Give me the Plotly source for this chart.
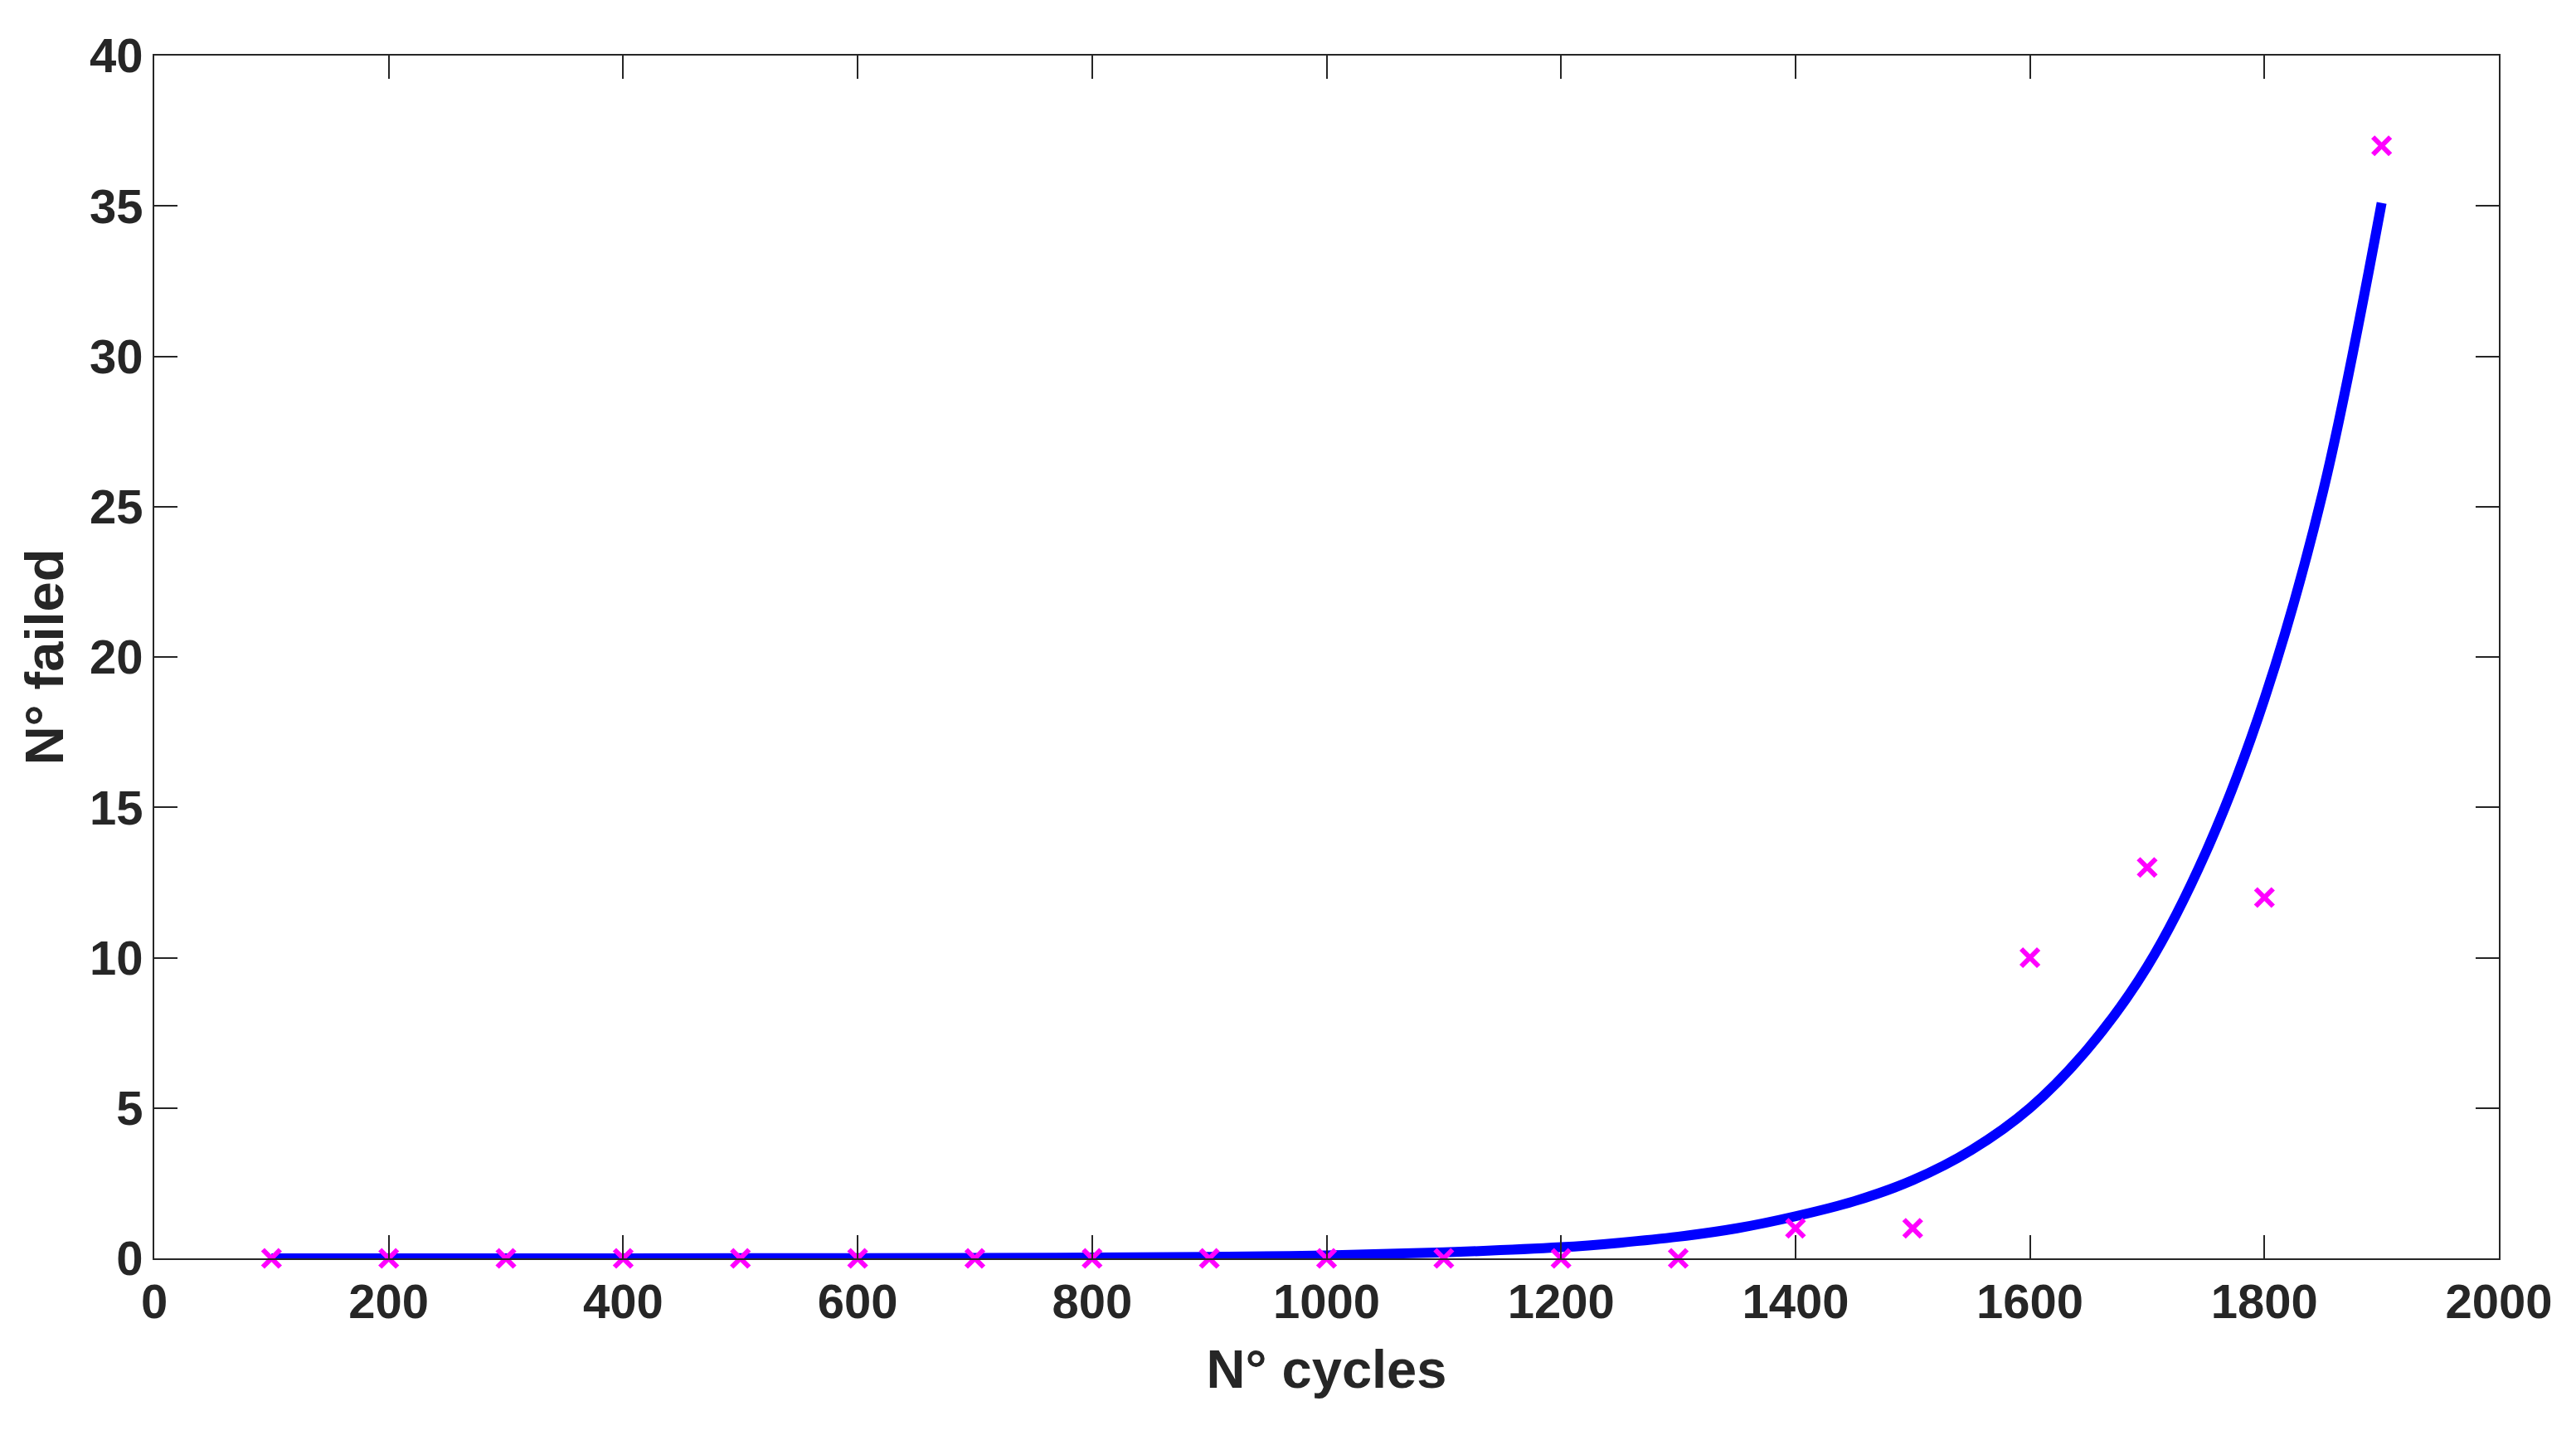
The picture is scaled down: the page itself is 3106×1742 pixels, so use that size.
import plotly.graph_objects as go

# measured failures per cycle count
cycles = [100, 200, 300, 400, 500, 600, 700, 800, 900, 1000,
          1100, 1200, 1300, 1400, 1500, 1600, 1700, 1800, 1900]
failed = [0, 0, 0, 0, 0, 0, 0, 0, 0, 0,
          0, 0, 0, 1, 1, 10, 13, 12, 37]

# fitted curve
fit_x = [100, 300, 500, 700, 900, 1000, 1100, 1200, 1250, 1300, 1350, 1400,
         1450, 1500, 1550, 1600, 1650, 1700, 1750, 1800, 1850, 1900]
fit_y = [0.0, 0.001, 0.004, 0.015, 0.05, 0.10, 0.20, 0.37, 0.52, 0.72, 1.0, 1.4,
         1.9, 2.6, 3.6, 5.0, 7.0, 9.7, 13.5, 18.6, 25.5, 35.1]

ink = "#262626"
font_family = "Liberation Sans Narrow, Liberation Sans, Arial"

fig = go.Figure()

fig.add_trace(go.Scatter(x=fit_x, y=fit_y, mode="lines", line_shape="spline",
                         line=dict(color="#0000ff", width=12), showlegend=False))

fig.add_trace(go.Scatter(x=cycles, y=failed, mode="markers",
                         marker=dict(symbol="x-thin", size=21, color="#ff00ff",
                                     line=dict(color="#ff00ff", width=6)),
                         showlegend=False, cliponaxis=False))

axis_style = dict(showline=True, linecolor=ink, linewidth=2, mirror="ticks",
                  ticks="inside", ticklen=28, tickwidth=2, tickcolor=ink,
                  showgrid=False, zeroline=False,
                  tickfont=dict(family=font_family, size=58, color=ink, weight="bold"))

fig.update_layout(
    width=3090, height=1726,
    margin=dict(l=178, r=85, t=59, b=217),
    plot_bgcolor="white", paper_bgcolor="white",
    xaxis=dict(range=[0, 2000], dtick=200,
               title=dict(text="N° cycles", standoff=28,
                          font=dict(family=font_family, size=65, color=ink, weight="bold")),
               **axis_style),
    yaxis=dict(range=[0, 40], dtick=5,
               title=dict(text="N° failed", standoff=10,
                          font=dict(family=font_family, size=65, color=ink, weight="bold")),
               **axis_style),
)

fig.write_html("out.html")
